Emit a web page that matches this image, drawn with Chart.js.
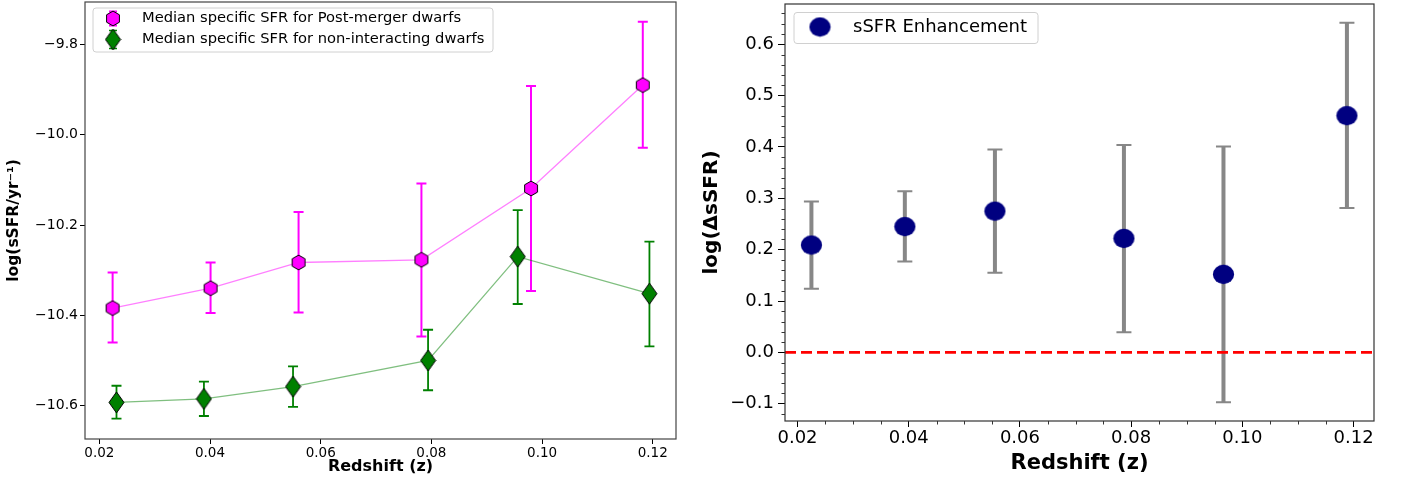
<!DOCTYPE html>
<html><head><meta charset="utf-8">
<script src="https://cdn.jsdelivr.net/npm/chart.js@4.4.1/dist/chart.umd.min.js"></script>
<style>
html,body{margin:0;padding:0;background:#fff;}
#wrap{position:relative;width:1401px;height:479px;overflow:hidden;background:#fff;}
#c1{position:absolute;left:0;top:0;}
#c2{position:absolute;left:700px;top:0;}
</style></head><body>
<div id="wrap"><canvas id="c1" width="700" height="479"></canvas><canvas id="c2" width="701" height="479"></canvas></div>
<script>
// ---------- DATA ----------
// Left panel: post-merger dwarfs
const pmZ     = [0.0224, 0.0401, 0.0560, 0.0782, 0.0980, 0.1182];
const pmVal   = [-10.384, -10.340, -10.283, -10.277, -10.119, -9.890];
const pmErrHi = [-10.305, -10.283, -10.171, -10.108, -9.892, -9.750];
const pmErrLo = [-10.460, -10.395, -10.394, -10.447, -10.346, -10.029];
// Left panel: non-interacting dwarfs
const niZ     = [0.0231, 0.0389, 0.0550, 0.0794, 0.0956, 0.1194];
const niVal   = [-10.593, -10.585, -10.558, -10.500, -10.270, -10.352];
const niErrHi = [-10.556, -10.547, -10.513, -10.432, -10.167, -10.237];
const niErrLo = [-10.629, -10.623, -10.603, -10.566, -10.375, -10.469];
// Right panel: sSFR enhancement
const enZ     = [0.0225, 0.0393, 0.0555, 0.0787, 0.0966, 0.1188];
const enVal   = [0.209, 0.245, 0.275, 0.222, 0.152, 0.461];
const enErrHi = [0.294, 0.314, 0.395, 0.404, 0.401, 0.642];
const enErrLo = [0.124, 0.177, 0.155, 0.039, -0.097, 0.281];
const refLineValue = 0;

// Tick values / labels
const xTickValues  = [0.02, 0.04, 0.06, 0.08, 0.10, 0.12];
const xTickLabels  = ['0.02', '0.04', '0.06', '0.08', '0.10', '0.12'];
const lyTickValues = [-9.8, -10.0, -10.2, -10.4, -10.6];
const lyTickLabels = ['\u22129.8', '\u221210.0', '\u221210.2', '\u221210.4', '\u221210.6'];
const ryTickValues = [-0.1, 0.0, 0.1, 0.2, 0.3, 0.4, 0.5, 0.6];
const ryTickLabels = ['\u22120.1', '0.0', '0.1', '0.2', '0.3', '0.4', '0.5', '0.6'];
const legendLeft  = ['Median specific SFR for Post-merger dwarfs', 'Median specific SFR for non-interacting dwarfs'];
const legendRight = ['sSFR Enhancement'];
const xTitle = 'Redshift (z)';
const lyTitle = 'log(sSFR/yr\u207B\u00B9)';
const ryTitle = 'log(\u0394sSFR)';

// ---------- STYLE ----------
const FONT = "'DejaVu Sans', sans-serif";
Chart.defaults.font.family = FONT;
Chart.defaults.color = '#000';

function mkCanvas(w, h, draw){ const c=document.createElement('canvas'); c.width=w; c.height=h; draw(c.getContext('2d'), w, h); return c; }
const hexImg = mkCanvas(16, 17, (g,w,h)=>{
  const cx=w/2, cy=h/2, R=7.4;
  g.beginPath();
  for(let k=0;k<6;k++){ const a=(-90+60*k)*Math.PI/180; const px=cx+R*Math.cos(a), py=cy+R*Math.sin(a); k?g.lineTo(px,py):g.moveTo(px,py); }
  g.closePath(); g.fillStyle='#ff00ff'; g.fill(); g.lineWidth=1; g.strokeStyle='#000'; g.stroke();
});
const diaImg = mkCanvas(17, 23, (g,w,h)=>{
  g.beginPath(); g.moveTo(w/2,1); g.lineTo(w-1,h/2); g.lineTo(w/2,h-1); g.lineTo(1,h/2); g.closePath();
  g.fillStyle='#008000'; g.fill(); g.lineWidth=1; g.strokeStyle='#000'; g.stroke();
});
const ellImg = mkCanvas(23, 21, (g,w,h)=>{
  g.beginPath(); g.ellipse(w/2,h/2,10.6,9.7,0,0,Math.PI*2); g.fillStyle='#000080'; g.fill();
});

function axis(o){
  return {
    type:'linear', position:o.pos, min:o.min, max:o.max,
    afterBuildTicks: s => { s.ticks = o.ticks.map(v => ({value:v})); },
    afterFit: s => {
      if(o.w!=null) s.width=o.w;
      if(o.h!=null) s.height=o.h;
      s.paddingTop=0; s.paddingBottom=0; s.paddingLeft=0; s.paddingRight=0;
    },
    ticks:{ autoSkip:false, maxRotation:0, minRotation:0, padding:o.pad, color:'#000',
      font:{size:o.fs, family:FONT},
      callback: v => { const i=o.ticks.findIndex(t=>Math.abs(t-v)<1e-9); return i>=0?o.labels[i]:''; } },
    grid:{ drawOnChartArea:false, drawTicks:true, tickLength:o.tl||5, tickWidth:1, tickColor:'#000' },
    border:{ display:false },
    title:{ display:true, text:o.title, color:'#000', font:{size:o.tfs, weight:'bold', family:FONT}, padding:o.tpad }
  };
}

const deco = {
  id:'deco',
  beforeDatasetsDraw(chart, args, o){
    const ctx=chart.ctx, xs=chart.scales.x, ys=chart.scales.y, ca=chart.chartArea;
    ctx.save();
    ctx.beginPath(); ctx.rect(ca.left, ca.top, ca.right-ca.left, ca.bottom-ca.top); ctx.clip();
    (o.sets||[]).forEach(s=>{
      ctx.strokeStyle=s.color;
      s.x.forEach((xv,i)=>{
        const px=xs.getPixelForValue(xv), ph=ys.getPixelForValue(s.hi[i]), pl=ys.getPixelForValue(s.lo[i]);
        ctx.lineWidth=s.width; ctx.beginPath(); ctx.moveTo(px,ph); ctx.lineTo(px,pl); ctx.stroke();
        ctx.lineWidth=s.capWidth; ctx.beginPath();
        ctx.moveTo(px-s.cap,ph); ctx.lineTo(px+s.cap,ph); ctx.moveTo(px-s.cap,pl); ctx.lineTo(px+s.cap,pl); ctx.stroke();
      });
    });
    if(o.ref){
      const py=ys.getPixelForValue(o.ref.value);
      ctx.strokeStyle=o.ref.color; ctx.lineWidth=o.ref.width; ctx.setLineDash(o.ref.dash);
      ctx.beginPath(); ctx.moveTo(ca.left,py); ctx.lineTo(ca.right,py); ctx.stroke(); ctx.setLineDash([]);
    }
    ctx.restore();
  },
  afterDraw(chart, args, o){
    const ctx=chart.ctx, xs=chart.scales.x, ys=chart.scales.y, ca=chart.chartArea;
    ctx.save();
    if(o.minor){
      const ml=o.minor.len;
      ctx.strokeStyle='#000'; ctx.lineWidth=0.8; ctx.beginPath();
      o.minor.x.forEach(v=>{ const px=Math.round(xs.getPixelForValue(v))+0.5; ctx.moveTo(px,ca.bottom); ctx.lineTo(px,ca.bottom+ml); });
      o.minor.y.forEach(v=>{ const py=Math.round(ys.getPixelForValue(v))+0.5; ctx.moveTo(ca.left-ml,py); ctx.lineTo(ca.left,py); });
      ctx.stroke();
    }
    ctx.strokeStyle=o.frameColor||'#333'; ctx.lineWidth=1.2;
    ctx.strokeRect(ca.left, ca.top, ca.right-ca.left, ca.bottom-ca.top);
    const L=o.legend;
    if(L){
      ctx.beginPath();
      if(ctx.roundRect) ctx.roundRect(L.x, L.y, L.w, L.h, 3); else ctx.rect(L.x, L.y, L.w, L.h);
      ctx.fillStyle='rgba(255,255,255,0.85)'; ctx.fill();
      ctx.strokeStyle='#d0d0d0'; ctx.lineWidth=1; ctx.stroke();
      ctx.font = L.fs + 'px ' + FONT; ctx.textBaseline='middle'; ctx.textAlign='left'; ctx.fillStyle='#000';
      L.items.forEach(it=>{
        if(it.bar){
          ctx.strokeStyle=it.bar.color; ctx.lineWidth=it.bar.width; ctx.beginPath();
          ctx.moveTo(L.mx, it.y-it.bar.len); ctx.lineTo(L.mx, it.y+it.bar.len);
          ctx.moveTo(L.mx-it.bar.cap, it.y-it.bar.len); ctx.lineTo(L.mx+it.bar.cap, it.y-it.bar.len);
          ctx.moveTo(L.mx-it.bar.cap, it.y+it.bar.len); ctx.lineTo(L.mx+it.bar.cap, it.y+it.bar.len);
          ctx.stroke();
        }
        ctx.drawImage(it.img, L.mx-it.img.width/2, it.y-it.img.height/2);
        ctx.fillText(it.text, L.tx, it.y);
      });
    }
    ctx.restore();
  }
};

// ---------- LEFT CHART ----------
new Chart(document.getElementById('c1'), {
  type:'scatter',
  data:{ datasets:[
    { label:legendLeft[0], data:pmZ.map((x,i)=>({x:x, y:pmVal[i]})), showLine:true,
      borderColor:'rgba(255,0,255,0.5)', borderWidth:1.3, pointStyle:hexImg, pointRadius:7, pointHoverRadius:7, clip:false },
    { label:legendLeft[1], data:niZ.map((x,i)=>({x:x, y:niVal[i]})), showLine:true,
      borderColor:'rgba(0,128,0,0.5)', borderWidth:1.3, pointStyle:diaImg, pointRadius:8, pointHoverRadius:8, clip:false }
  ]},
  plugins:[deco],
  options:{
    responsive:false, animation:false, devicePixelRatio:1,
    layout:{ autoPadding:false, padding:{ left:0, right:24, top:2, bottom:0 } },
    scales:{
      x: axis({pos:'bottom', min:0.01741, max:0.1242, ticks:xTickValues, labels:xTickLabels, h:40, fs:13.5, pad:1, title:xTitle, tfs:16, tpad:{top:0,bottom:3}}),
      y: axis({pos:'left', min:-10.674, max:-9.706, ticks:lyTickValues, labels:lyTickLabels, w:85, fs:14, pad:2, title:lyTitle, tfs:15.5, tpad:{top:5,bottom:0}})
    },
    plugins:{
      legend:{display:false}, tooltip:{enabled:false},
      deco:{
        frameColor:'#444',
        sets:[
          {x:pmZ, hi:pmErrHi, lo:pmErrLo, color:'#ff00ff', width:2, cap:5, capWidth:2},
          {x:niZ, hi:niErrHi, lo:niErrLo, color:'#008000', width:1.8, cap:5, capWidth:1.8}
        ],
        legend:{ x:93, y:8, w:400, h:44, mx:113, tx:142, fs:14.7,
          items:[
            {img:hexImg, y:18.5, text:legendLeft[0], bar:{color:'#ff00ff', width:2, len:7, cap:4}},
            {img:diaImg, y:39.5, text:legendLeft[1], bar:{color:'#008000', width:1.5, len:9, cap:4}}
          ]}
      }
    }
  }
});

// ---------- RIGHT CHART ----------
const minorX = []; for(let k=4;k<=24;k++){ if(k%4) minorX.push(k*0.005); }
const minorY = []; for(let k=-6;k<=33;k++){ if(k%5) minorY.push(k*0.02); }
new Chart(document.getElementById('c2'), {
  type:'scatter',
  data:{ datasets:[
    { label:legendRight[0], data:enZ.map((x,i)=>({x:x, y:enVal[i]})), showLine:false,
      pointStyle:ellImg, pointRadius:10, pointHoverRadius:10, clip:false }
  ]},
  plugins:[deco],
  options:{
    responsive:false, animation:false, devicePixelRatio:1,
    layout:{ autoPadding:false, padding:{ left:0, right:27, top:4, bottom:0 } },
    scales:{
      x: axis({pos:'bottom', min:0.01775, max:0.12367, ticks:xTickValues, labels:xTickLabels, h:58, fs:18, pad:1, tl:6, title:xTitle, tfs:21, tpad:{top:0,bottom:3}}),
      y: axis({pos:'left', min:-0.1337, max:0.6785, ticks:ryTickValues, labels:ryTickLabels, w:85, fs:18, pad:4, tl:7, title:ryTitle, tfs:20, tpad:{top:0,bottom:0}})
    },
    plugins:{
      legend:{display:false}, tooltip:{enabled:false},
      deco:{
        frameColor:'#333',
        sets:[ {x:enZ, hi:enErrHi, lo:enErrLo, color:'#878787', width:4, cap:7.5, capWidth:2} ],
        ref:{ value:refLineValue, color:'#ff0000', width:2.6, dash:[11,5] },
        minor:{ x:minorX, y:minorY, len:3.5 },
        legend:{ x:94, y:12.5, w:244, h:31, mx:120, tx:153, fs:18,
          items:[ {img:ellImg, y:27, text:legendRight[0]} ]}
      }
    }
  }
});
</script>
</body></html>
